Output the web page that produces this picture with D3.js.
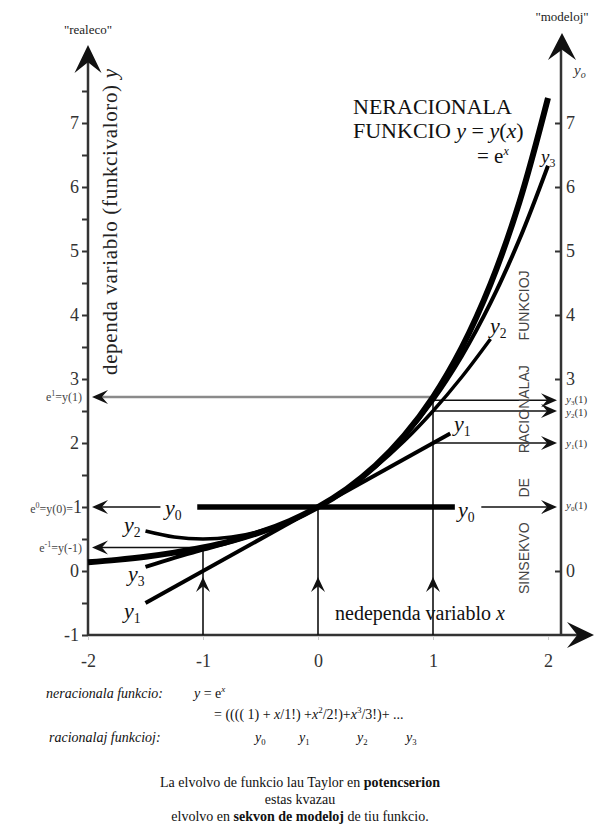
<!DOCTYPE html>
<html>
<head>
<meta charset="utf-8">
<script src="https://cdn.jsdelivr.net/npm/d3@7"></script>
<style>
  body { margin: 0; background: #fff; }
  svg { display: block; font-family: "Liberation Serif", "Times New Roman", serif; }
</style>
</head>
<body>
<svg id="chart" width="599" height="827"></svg>
<script>
// ---------------- data ----------------
const xTickValues = [-2, -1, 0, 1, 2];
const yTickValues = [-1, 0, 2, 3, 4, 5, 6, 7];
const yMinorTicks = [-0.5, 0.5, 1, 1.5, 2.5, 3.5, 4.5, 5.5, 6.5, 7.5];
const rightTickValues = [0, 3, 4, 5, 6, 7];

// e^x (thick)
const expCurve = [[-2,0.135],[-1.75,0.174],[-1.5,0.223],[-1.25,0.287],[-1,0.368],[-0.75,0.472],[-0.5,0.607],[-0.25,0.779],[0,1],[0.25,1.284],[0.5,1.649],[0.75,2.117],[1,2.718],[1.25,3.49],[1.5,4.482],[1.75,5.755],[2,7.389]];
// y3
const y3Curve = [[-1.5,0.063],[-1.25,0.206],[-1,0.333],[-0.75,0.461],[-0.5,0.604],[-0.25,0.779],[0,1],[0.25,1.284],[0.5,1.646],[0.75,2.102],[1,2.667],[1.25,3.357],[1.5,4.188],[1.75,5.175],[2,6.333]];
// y2
const y2Curve = [[-1.5,0.625],[-1.25,0.531],[-1,0.5],[-0.75,0.531],[-0.5,0.625],[-0.25,0.781],[0,1],[0.25,1.281],[0.5,1.625],[0.75,2.031],[1,2.5],[1.25,3.031],[1.5,3.625]];
// y1
const y1Curve = [[-1.5,-0.5],[1.15,2.15]];
// y0
const y0Curve = [[-1.05,1],[1.19,1]];

const leftArrowY = [2.718, 1, 0.368];
const leftArrowFromX = [1, -1.37, -1];
const rightArrowY = [2.667, 2.5, 2, 1];
const rightArrowFromX = [1, 1, 1, 1.42];
const rightArrowLabels = ["3", "2", "1", "0"];
const upArrowX = [-1, 0, 1];
const upArrowTop = [0.368, 1, 2.667];

// ---------------- drawing ----------------
const svg = d3.select("#chart");
svg.append("rect").attr("width", 599).attr("height", 827).attr("fill", "#fff");

const x = d3.scaleLinear().domain([-2, 2]).range([88, 548]);
const y = d3.scaleLinear().domain([-1, 7]).range([635, 123]);
const leftAxisX = x(-2);
const rightAxisX = 561;
const axisColor = "#333";
const plainFmt = d => String(d);
const SERIF = '"Liberation Serif", "Times New Roman", serif';

function arrowHead(tx, ty, angle, len, half, color) {
  const dx = Math.cos(angle), dy = Math.sin(angle);
  const nx = -dy, ny = dx;
  const bx = tx - len * dx, by = ty - len * dy;
  const mx = tx - 0.62 * len * dx, my = ty - 0.62 * len * dy;
  const pts = [[tx, ty], [bx + half * nx, by + half * ny], [mx, my], [bx - half * nx, by - half * ny]];
  svg.append("path").attr("d", "M" + pts.map(p => p.join(",")).join("L") + "Z")
    .attr("fill", color || "#000");
}

// ----- axes -----
svg.append("line").attr("x1", leftAxisX).attr("x2", leftAxisX).attr("y1", 636).attr("y2", 60)
  .attr("stroke", axisColor).attr("stroke-width", 2.5);
arrowHead(leftAxisX, 45, -Math.PI / 2, 28, 13.5, "#111");
svg.append("line").attr("x1", leftAxisX).attr("x2", 580).attr("y1", y(-1)).attr("y2", y(-1))
  .attr("stroke", axisColor).attr("stroke-width", 2.5);
arrowHead(594, y(-1), 0, 27, 13, "#111");
svg.append("line").attr("x1", rightAxisX).attr("x2", rightAxisX).attr("y1", y(-1)).attr("y2", 50)
  .attr("stroke", axisColor).attr("stroke-width", 2.5);
arrowHead(rightAxisX + 1, 33, -Math.PI / 2, 27, 14, "#111");

function styleAxisText(sel) {
  sel.attr("font-family", SERIF).attr("font-size", 18).attr("fill", "#333");
}

const leftAxis = d3.axisLeft(y).tickValues(yTickValues).tickSize(6).tickFormat(plainFmt);
const gL = svg.append("g").attr("transform", `translate(${leftAxisX},0)`).call(leftAxis);
gL.attr("font-family", SERIF).attr("font-size", 18);
gL.select(".domain").remove();
gL.selectAll("line").attr("stroke", axisColor).attr("stroke-width", 2);
styleAxisText(gL.selectAll("text").attr("x", -9).attr("dy", "0.33em"));
const leftMinor = d3.axisLeft(y).tickValues(yMinorTicks).tickSize(6).tickFormat("");
const gLm = svg.append("g").attr("transform", `translate(${leftAxisX},0)`).call(leftMinor);
gLm.select(".domain").remove();
gLm.selectAll("line").attr("stroke", axisColor).attr("stroke-width", 2);

const rightAxis = d3.axisLeft(y).tickValues(rightTickValues).tickSize(6).tickFormat(plainFmt);
const gR = svg.append("g").attr("transform", `translate(${rightAxisX},0)`).call(rightAxis);
gR.attr("font-family", SERIF).attr("font-size", 18);
gR.select(".domain").remove();
gR.selectAll("line").attr("stroke", axisColor).attr("stroke-width", 2);
styleAxisText(gR.selectAll("text").attr("text-anchor", "start").attr("x", 5).attr("dy", "0.33em"));

const bottomAxis = d3.axisBottom(x).tickValues(xTickValues).tickSize(4).tickFormat(plainFmt);
const gB = svg.append("g").attr("transform", `translate(0,${y(-1) + 1})`).call(bottomAxis);
gB.attr("font-family", SERIF).attr("font-size", 18);
gB.select(".domain").remove();
gB.selectAll("line").attr("stroke", "#ccc").attr("stroke-width", 1);
styleAxisText(gB.selectAll("text").attr("y", 18).attr("dy", "0.71em"));

// ----- guide arrows -----
upArrowX.forEach((xv, i) => {
  svg.append("line").attr("x1", x(xv)).attr("x2", x(xv)).attr("y1", y(-1)).attr("y2", y(upArrowTop[i]))
    .attr("stroke", "#111").attr("stroke-width", 1.6);
  arrowHead(x(xv), 577, -Math.PI / 2, 15, 7, "#111");
});
leftArrowY.forEach((yv, i) => {
  const gray = i === 0;
  svg.append("line").attr("x1", x(leftArrowFromX[i])).attr("x2", leftAxisX + 8)
    .attr("y1", y(yv)).attr("y2", y(yv))
    .attr("stroke", gray ? "#8a8a8a" : "#111").attr("stroke-width", gray ? 2.6 : 1.6);
  arrowHead(leftAxisX + 4, y(yv), Math.PI, 16, 7, "#111");
});
rightArrowY.forEach((yv, i) => {
  svg.append("line").attr("x1", x(rightArrowFromX[i])).attr("x2", rightAxisX - 8)
    .attr("y1", y(yv)).attr("y2", y(yv))
    .attr("stroke", "#111").attr("stroke-width", 1.6);
  arrowHead(rightAxisX - 4, y(yv), 0, 16, 7, "#111");
});

// ----- curves -----
const line = d3.line().x(d => x(d[0])).y(d => y(d[1])).curve(d3.curveCatmullRom);
const curves = [
  { data: y0Curve, w: 5.5 },
  { data: y1Curve, w: 4 },
  { data: y2Curve, w: 3.5 },
  { data: y3Curve, w: 4 },
  { data: expCurve, w: 6 }
];
curves.forEach(c => {
  svg.append("path").attr("d", line(c.data)).attr("fill", "none")
    .attr("stroke", "#000").attr("stroke-width", c.w);
});

// ----- text helpers -----
function subLabel(px, py, sub, size, color) {
  const t = svg.append("text").attr("x", px).attr("y", py).attr("font-size", size)
    .attr("fill", color || "#111");
  t.append("tspan").attr("font-style", "italic").text("y");
  t.append("tspan").attr("font-size", size * 0.62).attr("dy", size * 0.22).text(sub);
  return t;
}

subLabel(165, 515, "0", 22);
subLabel(458, 517, "0", 22);
subLabel(124, 618, "1", 22);
subLabel(454, 431, "1", 22);
subLabel(124, 532, "2", 22);
subLabel(490, 333, "2", 22);
subLabel(128, 581, "3", 22);
subLabel(541, 163, "3", 19);

// right axis value labels
const rightLabelY = [403, 416, 447, 509];
rightArrowLabels.forEach((s, i) => {
  const t = svg.append("text").attr("x", 566).attr("y", rightLabelY[i]).attr("font-size", 11).attr("fill", "#333");
  t.append("tspan").attr("font-style", "italic").text("y");
  t.append("tspan").attr("font-size", 7).attr("dy", 2).text(s);
  t.append("tspan").attr("dy", -2).text("(1)");
});

function expLabel(py, sup, rest, tail) {
  const t = svg.append("text").attr("x", 82).attr("y", py).attr("text-anchor", "end")
    .attr("font-size", 12).attr("fill", "#444");
  t.append("tspan").text("e");
  t.append("tspan").attr("font-size", 8).attr("dy", -5).text(sup);
  t.append("tspan").attr("dy", 5).text(rest);
  if (tail) t.append("tspan").attr("font-size", 18).attr("fill", "#333").text(tail);
}
expLabel(401, "1", "=y(1)");
expLabel(513, "0", "=y(0)=", "1");
expLabel(552, "-1", "=y(-1)");

svg.append("text").attr("x", 88).attr("y", 34).attr("text-anchor", "middle")
  .attr("font-size", 13).attr("fill", "#222").text('"realeco"');
svg.append("text").attr("x", 562).attr("y", 21).attr("text-anchor", "middle")
  .attr("font-size", 13).attr("fill", "#222").text('"modeloj"');
(function () {
  const t = svg.append("text").attr("x", 574).attr("y", 75).attr("font-size", 15).attr("fill", "#333");
  t.append("tspan").attr("font-style", "italic").text("y");
  t.append("tspan").attr("font-size", 10).attr("dy", 3).attr("font-style", "italic").text("o");
})();

(function () {
  const t = svg.append("text").attr("transform", "translate(117,375) rotate(-90)")
    .attr("font-size", 21).attr("fill", "#222").attr("textLength", 306).attr("lengthAdjust", "spacing");
  t.append("tspan").text("dependa variablo (funkcivaloro) ");
  t.append("tspan").attr("font-style", "italic").text("y");
})();

svg.append("text").attr("transform", "translate(529,594) rotate(-90)")
  .style("font-family", '"Liberation Sans", Arial, sans-serif').attr("font-size", 14).attr("fill", "#444")
  .attr("word-spacing", 21)
  .text("SINSEKVO DE RACIONALAJ FUNKCIOJ");

// title
svg.append("text").attr("x", 353).attr("y", 114).attr("font-size", 22).attr("fill", "#111").text("NERACIONALA");
(function () {
  const t = svg.append("text").attr("x", 353).attr("y", 138).attr("font-size", 22).attr("fill", "#111");
  t.append("tspan").text("FUNKCIO ");
  t.append("tspan").attr("font-style", "italic").text("y");
  t.append("tspan").text(" = ");
  t.append("tspan").attr("font-style", "italic").text("y");
  t.append("tspan").text("(");
  t.append("tspan").attr("font-style", "italic").text("x");
  t.append("tspan").text(")");
  const t2 = svg.append("text").attr("x", 477).attr("y", 163).attr("font-size", 21).attr("fill", "#111");
  t2.append("tspan").text("=  e");
  t2.append("tspan").attr("font-size", 12).attr("dy", -8).attr("font-style", "italic").text("x");
})();

(function () {
  const t = svg.append("text").attr("x", 335).attr("y", 620).attr("font-size", 20).attr("fill", "#111");
  t.append("tspan").text("nedependa variablo ");
  t.append("tspan").attr("font-style", "italic").text("x");
})();

// formula block
(function () {
  const fs = 14;
  svg.append("text").attr("x", 46).attr("y", 698).attr("font-size", fs).attr("fill", "#111")
    .attr("font-style", "italic").text("neracionala funkcio:");
  const a2 = svg.append("text").attr("x", 194).attr("y", 698).attr("font-size", fs).attr("fill", "#111");
  a2.append("tspan").attr("font-style", "italic").text("y");
  a2.append("tspan").text(" = e");
  a2.append("tspan").attr("font-size", 9).attr("dy", -6).attr("font-style", "italic").text("x");

  const b = svg.append("text").attr("x", 214).attr("y", 719).attr("font-size", fs).attr("fill", "#111");
  b.append("tspan").text("= (((( 1) + ");
  b.append("tspan").attr("font-style", "italic").text("x");
  b.append("tspan").text("/1!) +");
  b.append("tspan").attr("font-style", "italic").text("x");
  b.append("tspan").attr("font-size", 9).attr("dy", -6).text("2");
  b.append("tspan").attr("dy", 6).text("/2!)+");
  b.append("tspan").attr("font-style", "italic").text("x");
  b.append("tspan").attr("font-size", 9).attr("dy", -6).text("3");
  b.append("tspan").attr("dy", 6).text("/3!)+ ...");

  svg.append("text").attr("x", 49).attr("y", 742).attr("font-size", fs).attr("fill", "#111")
    .attr("font-style", "italic").text("racionalaj funkcioj:");
  const subs = ["0", "1", "2", "3"];
  const subX = [255, 299, 357, 406];
  subs.forEach((s, i) => subLabel(subX[i], 742, s, 14));
})();

// caption
(function () {
  const fs = 14;
  const c1 = svg.append("text").attr("x", 300).attr("y", 787).attr("text-anchor", "middle").attr("font-size", fs).attr("fill", "#111");
  c1.append("tspan").text("La elvolvo de funkcio lau Taylor en ");
  c1.append("tspan").attr("font-weight", "bold").text("potencserion");
  svg.append("text").attr("x", 300).attr("y", 804).attr("text-anchor", "middle").attr("font-size", fs).attr("fill", "#111")
    .text("estas kvazau");
  const c3 = svg.append("text").attr("x", 300).attr("y", 821).attr("text-anchor", "middle").attr("font-size", fs).attr("fill", "#111");
  c3.append("tspan").text("elvolvo en ");
  c3.append("tspan").attr("font-weight", "bold").text("sekvon de modeloj");
  c3.append("tspan").text(" de tiu funkcio.");
})();
</script>
</body>
</html>
